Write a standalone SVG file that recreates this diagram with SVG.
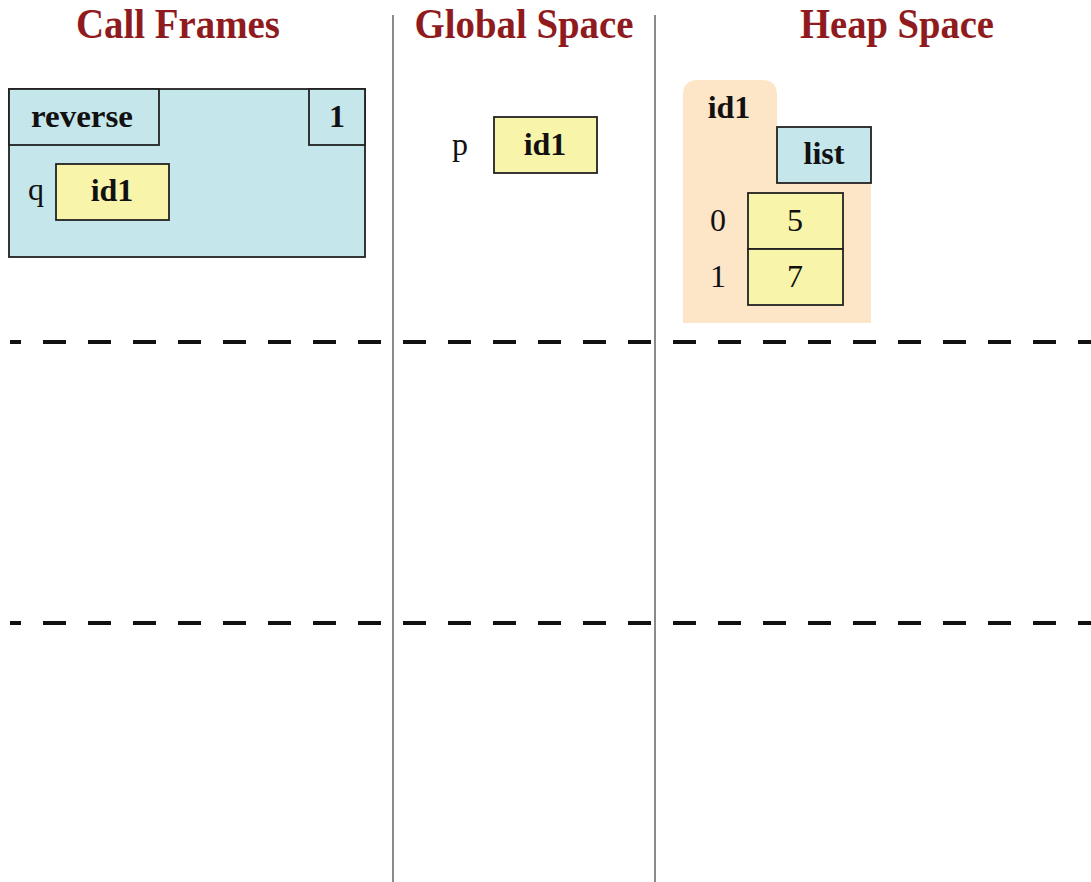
<svg xmlns="http://www.w3.org/2000/svg" width="1091" height="882" viewBox="0 0 1091 882">
  <style>
    .head { font-family: "Liberation Serif", "Times New Roman", serif; font-weight: bold; font-size: 42px; fill: #8f1b1e; text-anchor: middle; }
    .bold { font-family: "Liberation Serif", "Times New Roman", serif; font-weight: bold; font-size: 32px; fill: #111; text-anchor: middle; }
    .plain { font-family: "Liberation Serif", "Times New Roman", serif; font-size: 32px; fill: #111; text-anchor: middle; }
    .box { stroke: #222; stroke-width: 1.8; }
    .frame { fill: #c5e6eb; }
    .val { fill: #f8f4aa; }
    .divider { stroke: #8a8a8a; stroke-width: 2; }
    .row { stroke: #111; stroke-width: 4; stroke-dasharray: 23 22; stroke-dashoffset: 12; }
  </style>

  <rect width="1091" height="882" fill="#ffffff"/>

  <!-- column headings -->
  <g id="headings">
    <text class="head" x="178" y="38" textLength="204" lengthAdjust="spacingAndGlyphs">Call Frames</text>
    <text class="head" x="524" y="38" textLength="219" lengthAdjust="spacingAndGlyphs">Global Space</text>
    <text class="head" x="897" y="38" textLength="194" lengthAdjust="spacingAndGlyphs">Heap Space</text>
  </g>

  <!-- column dividers and row separators -->
  <g id="connectors">
    <line class="divider" x1="393" y1="15" x2="393" y2="882"/>
    <line class="divider" x1="655" y1="15" x2="655" y2="882"/>
    <line class="row" x1="10" y1="342" x2="1091" y2="342"/>
    <line class="row" x1="10" y1="623" x2="1091" y2="623"/>
  </g>

  <!-- call frame for reverse -->
  <g id="frame-reverse">
    <rect class="box frame" x="9" y="89" width="356" height="168"/>
    <rect class="box frame" x="9" y="89" width="150" height="56"/>
    <rect class="box frame" x="309" y="89" width="56" height="56"/>
    <text class="bold" x="82" y="127" textLength="102" lengthAdjust="spacingAndGlyphs">reverse</text>
    <text class="bold" x="337" y="127">1</text>
    <text class="plain" x="36" y="200">q</text>
    <rect class="box val" x="56" y="164" width="113" height="56"/>
    <text class="bold" x="112" y="201">id1</text>
  </g>

  <!-- global variable p -->
  <g id="global-p">
    <text class="plain" x="460" y="155">p</text>
    <rect class="box val" x="494" y="117" width="103" height="56"/>
    <text class="bold" x="545" y="155">id1</text>
  </g>

  <!-- heap object id1: a list -->
  <g id="heap-id1">
    <path d="M683,323 V95 Q683,80 698,80 H762 Q777,80 777,95 V127 H871 V323 Z" fill="#fde5c8"/>
    <text class="bold" x="729" y="118">id1</text>
    <rect class="box frame" x="777" y="127" width="94" height="56"/>
    <text class="bold" x="824" y="164">list</text>
    <text class="plain" x="718" y="231">0</text>
    <rect class="box val" x="748" y="193" width="95" height="56"/>
    <text class="plain" x="795" y="231">5</text>
    <text class="plain" x="718" y="287">1</text>
    <rect class="box val" x="748" y="249" width="95" height="56"/>
    <text class="plain" x="795" y="287">7</text>
  </g>
</svg>
